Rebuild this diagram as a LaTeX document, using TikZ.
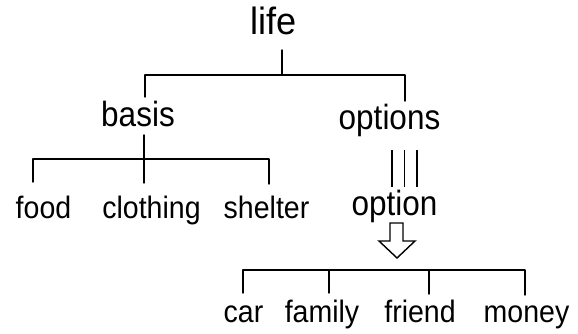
\documentclass[tikz,border=0pt]{standalone}
\usepackage{fontspec}
\setmainfont{Liberation Sans}
\begin{document}
\begin{tikzpicture}[x=1pt,y=-1pt,
  link/.style={line width=1.4pt,line cap=round,line join=round},
  toplabel/.style={anchor=base,inner sep=0pt,font=\fontsize{38}{38}\selectfont,xscale=0.95},
  midlabel/.style={anchor=base,inner sep=0pt,font=\fontsize{35}{35}\selectfont,xscale=0.9},
  leaflabel/.style={anchor=base,inner sep=0pt,font=\fontsize{31}{31}\selectfont,xscale=0.92},
  hollowarrow/.style={line width=1.4pt,line join=miter,fill=white}]
\useasboundingbox (0,0) rectangle (578,334);

% labels
\node[toplabel]  (life)     at (273.5,35)  {life};
\node[midlabel]  (basis)    at (138,127)   {basis};
\node[midlabel]  (options)  at (389.5,129) {options};
\node[leaflabel] (food)     at (43.5,218)  {food};
\node[leaflabel] (clothing) at (151.5,218) {clothing};
\node[leaflabel] (shelter)  at (266.5,218) {shelter};
\node[midlabel]  (option)   at (394.5,215) {option};
\node[leaflabel] (car)      at (243.5,322) {car};
\node[leaflabel] (family)   at (322,322)   {family};
\node[leaflabel] (friend)   at (420,322)   {friend};
\node[leaflabel] (money)    at (526.5,322) {money};

% junction points of the tree
\coordinate (lifeTop)  at (282,50);
\coordinate (lifeJ)    at (282,75);
\coordinate (lifeL)    at (145,75);
\coordinate (lifeR)    at (405,75);
\coordinate (basisIn)  at (145,97);
\coordinate (optsIn)   at (405,101);

\coordinate (basisTop) at (144,135);
\coordinate (basisL)   at (33,159);
\coordinate (basisR)   at (269,159);
\coordinate (foodIn)   at (33,182);
\coordinate (clothIn)  at (144,183);
\coordinate (shelIn)   at (269,184);

\coordinate (optL)     at (243,270);
\coordinate (optR)     at (525,270);
\coordinate (carIn)    at (243,293);
\coordinate (famTop)   at (329,270);
\coordinate (famIn)    at (329,293);
\coordinate (friTop)   at (429,270);
\coordinate (friIn)    at (429,294);
\coordinate (monIn)    at (525,295);

% life -> basis, options
\draw[link] (lifeTop) -- (lifeJ);
\draw[link] (basisIn) -- (lifeL) -- (lifeR) -- (optsIn);

% basis -> food, clothing, shelter
\draw[link] (basisTop) -- (clothIn);
\draw[link] (foodIn) -- (basisL) -- (basisR) -- (shelIn);

% options ||| option
\foreach \xx in {392,404.5,417}
  \draw[line width=1.4pt] (\xx,150) -- (\xx,187);

% hollow arrow from option down to its items
\draw[hollowarrow] (390,223) -- (403,223) -- (403,241) -- (415,241)
  -- (397,258) -- (379,241) -- (390,241) -- cycle;

% option -> car, family, friend, money
\draw[link] (carIn) -- (optL) -- (optR) -- (monIn);
\draw[link] (famTop) -- (famIn);
\draw[link] (friTop) -- (friIn);
\end{tikzpicture}
\end{document}
